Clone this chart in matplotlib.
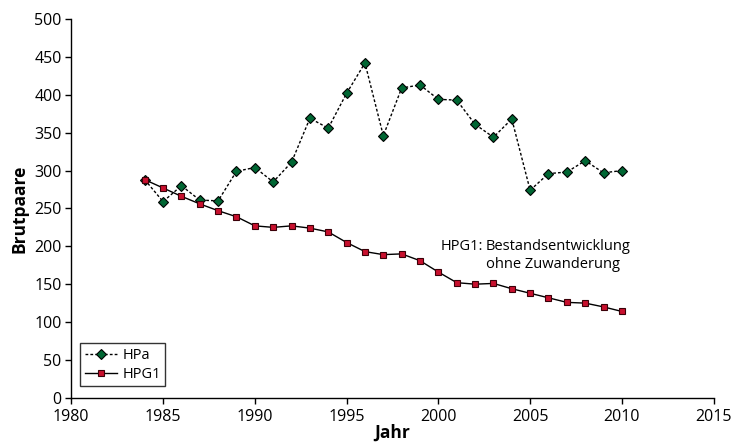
import matplotlib
matplotlib.use('Agg')
from matplotlib import pyplot as plt

plt.rcParams['font.family'] = ['Open Sans', 'DejaVu Sans']

years = list(range(1984, 2011))
hpa = [288, 259, 280, 261, 260, 299, 304, 285, 311, 369, 356, 402, 442,
       346, 409, 413, 394, 393, 361, 344, 368, 274, 296, 298, 313, 297, 300]
hpg1 = [288, 277, 266, 256, 247, 239, 227, 225, 227, 224, 219, 205, 193,
        189, 190, 181, 166, 152, 150, 151, 144, 138, 132, 126, 125, 120, 114]
x_ticks = [1980, 1985, 1990, 1995, 2000, 2005, 2010, 2015]
y_ticks = [0, 50, 100, 150, 200, 250, 300, 350, 400, 450, 500]

fig = plt.figure(figsize=(7.35, 4.43), dpi=100)
axes = fig.add_axes([0.097, 0.102, 0.874, 0.855])

axes.plot(years, hpa, color='black', linestyle=(0, (2, 1.5)), linewidth=1,
          marker='D', markersize=5, markerfacecolor='#006633',
          markeredgecolor='black', markeredgewidth=0.8, label='HPa')
axes.plot(years, hpg1, color='black', linestyle='-', linewidth=1,
          marker='s', markersize=5, markerfacecolor='#c8102e',
          markeredgecolor='#3a0008', markeredgewidth=0.8, label='HPG1')

axes.set_xlim(1980, 2015)
axes.set_ylim(0, 500)
axes.set_xticks(x_ticks)
axes.set_yticks(y_ticks)
axes.tick_params(direction='out', length=4, width=1, labelsize=11.5,
                 colors='black')
axes.tick_params(axis='x', pad=4)
axes.tick_params(axis='y', pad=3)
for side in ['top', 'right']:
    axes.spines[side].set_visible(False)
for side in ['left', 'bottom']:
    axes.spines[side].set_linewidth(1)

axes.set_xlabel('Jahr', fontsize=12.5, fontweight='bold', labelpad=-1)
axes.set_ylabel('Brutpaare', fontsize=12.5, fontweight='bold', labelpad=4)

axes.text(2002.45, 209, 'HPG1:', fontsize=10.5, ha='right', va='top')
axes.text(2002.6, 209, 'Bestandsentwicklung\nohne Zuwanderung', fontsize=10.5,
          ha='left', va='top', linespacing=1.25)

leg = axes.legend(loc='lower left', bbox_to_anchor=(0.014, 0.03), fontsize=10.5,
                  frameon=True, fancybox=False, borderpad=0.3, handlelength=2.2,
                  handletextpad=0.4, labelspacing=0.3, borderaxespad=0)
leg.get_frame().set_edgecolor('black')
leg.get_frame().set_linewidth(1)

plt.savefig('out.png', dpi=100)
